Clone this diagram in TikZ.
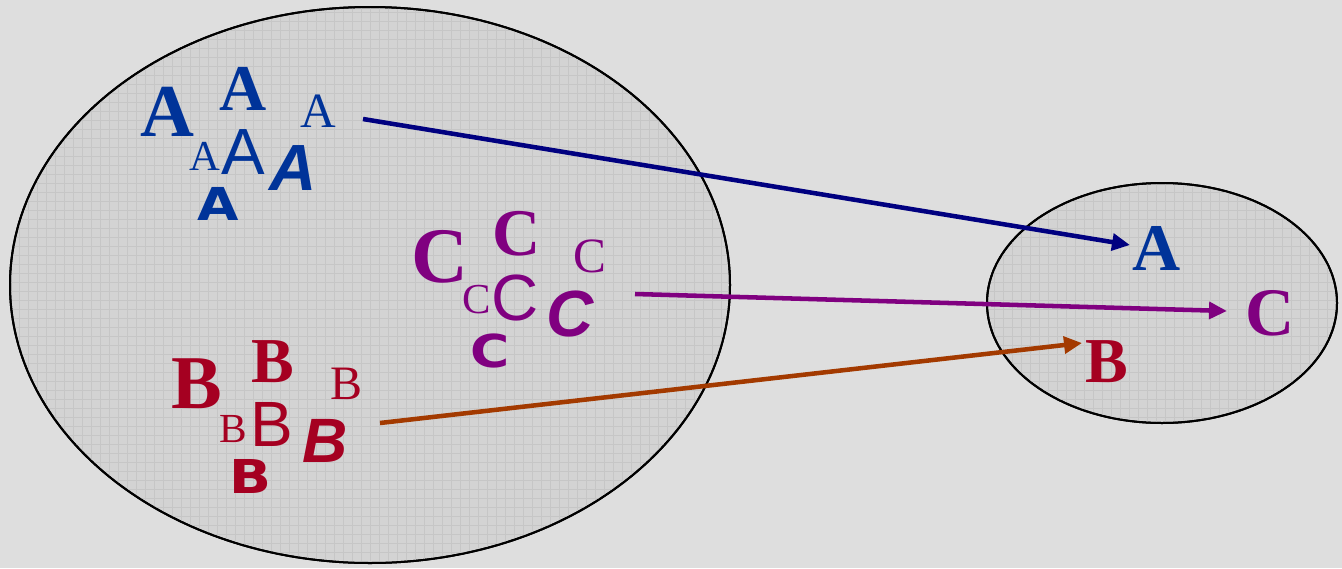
\documentclass[tikz,border=0pt]{standalone}
\usepackage{fontspec}
\usetikzlibrary{arrows.meta}
\newfontfamily\tms{Liberation Serif}
\newfontfamily\arl{Liberation Sans}
\newfontfamily\dvs{DejaVu Sans}
\definecolor{bgmarble}{HTML}{DEDEDE}
\definecolor{setfill}{HTML}{D3D3D3}
\definecolor{gridc}{HTML}{C6C6C6}
\definecolor{letA}{HTML}{003399}
\definecolor{letB}{HTML}{A50021}
\definecolor{letC}{HTML}{800080}
\definecolor{arrA}{HTML}{000080}
\definecolor{arrB}{HTML}{A33A00}
\newcommand{\fsz}[1]{\fontsize{#1}{#1}\selectfont}
\newcommand{\wideL}[1]{\scalebox{1.18}[1]{\dvs\bfseries #1}}
\tikzset{
  ltr/.style={inner sep=0pt, outer sep=0pt, anchor=base},
  la/.style={ltr, text=letA},
  lb/.style={ltr, text=letB},
  lc/.style={ltr, text=letC},
  setshape/.style={draw=black, line width=1.5pt, fill=setfill},
  gridline/.style={draw=gridc, line width=0.5pt},
  maparrow/.style={line width=3.4pt, -{Triangle[length=13.5pt,width=12.5pt]}},
}
\begin{document}
\begin{tikzpicture}[x=0.75pt, y=-0.75pt]
\useasboundingbox (0,0) rectangle (1342,568);
\fill[bgmarble] (0,0) rectangle (1342,568);
% sets
\path[setshape] (370,285) ellipse [x radius=360, y radius=278];
\path[setshape] (1162,303) ellipse [x radius=175, y radius=120];
\begin{scope}
  \clip (370,285) ellipse [x radius=359, y radius=277];
  \foreach \gx in {10,19,...,730} \path[gridline] (\gx,0) -- (\gx,568);
  \foreach \gy in {3,12,...,568} \path[gridline] (0,\gy) -- (740,\gy);
\end{scope}
\begin{scope}
  \clip (1162,303) ellipse [x radius=174, y radius=119];
  \foreach \gx in {985,994,...,1340} \path[gridline] (\gx,180) -- (\gx,430);
  \foreach \gy in {183,192,...,425} \path[gridline] (980,\gy) -- (1342,\gy);
\end{scope}
\draw[black, line width=1.5pt] (370,285) ellipse [x radius=360, y radius=278];
\draw[black, line width=1.5pt] (1162,303) ellipse [x radius=175, y radius=120];
% A cluster
\node[la] (a1) at (167,136) {\tms\bfseries\fsz{56}A};
\node[la] (a2) at (243,110) {\tms\bfseries\fsz{49}A};
\node[la] (a3) at (318,127) {\tms\fsz{37}A};
\node[la] (a4) at (205,170) {\tms\fsz{32}A};
\node[la] (a5) at (243,174) {\arl\fsz{49}A};
\node[la] (a6) at (293,190) {\arl\bfseries\itshape\fsz{49}A};
\node[la] (a7) at (218,220) {\wideL{\fsz{34}A}};
% C cluster
\node[lc] (c1) at (440,282) {\tms\bfseries\fsz{59}C};
\node[lc] (c2) at (517,255) {\tms\bfseries\fsz{50}C};
\node[lc] (c3) at (590,272) {\tms\fsz{37}C};
\node[lc] (c4) at (477,313) {\tms\fsz{32}C};
\node[lc] (c5) at (515,320) {\arl\fsz{49}C};
\node[lc] (c6) at (570,336) {\arl\bfseries\itshape\fsz{49}C};
\node[lc] (c7) at (490,367) {\wideL{\fsz{34}C}};
% B cluster
\node[lb] (b1) at (197,408) {\tms\bfseries\fsz{57}B};
\node[lb] (b2) at (273,382) {\tms\bfseries\fsz{48}B};
\node[lb] (b3) at (347,399) {\tms\fsz{36}B};
\node[lb] (b4) at (233,442) {\tms\fsz{31}B};
\node[lb] (b5) at (272,446) {\arl\fsz{48}B};
\node[lb] (b6) at (325,462) {\arl\bfseries\itshape\fsz{47}B};
\node[lb] (b7) at (250,493) {\wideL{\fsz{35}B}};
% target set
\node[la] (tA) at (1157,270) {\tms\bfseries\fsz{50}A};
\node[lc] (tC) at (1270,335) {\tms\bfseries\fsz{51}C};
\node[lb] (tB) at (1107,382) {\tms\bfseries\fsz{48}B};
% arrows
\coordinate (sA) at (363,119);
\coordinate (eA) at (1130,245);
\coordinate (sC) at (635,294);
\coordinate (eC) at (1227,311);
\coordinate (sB) at (380,423);
\coordinate (eB) at (1082,343);
\draw[maparrow, arrA] (sA) -- (eA);
\draw[maparrow, letC] (sC) -- (eC);
\draw[maparrow, arrB] (sB) -- (eB);
\end{tikzpicture}
\end{document}
